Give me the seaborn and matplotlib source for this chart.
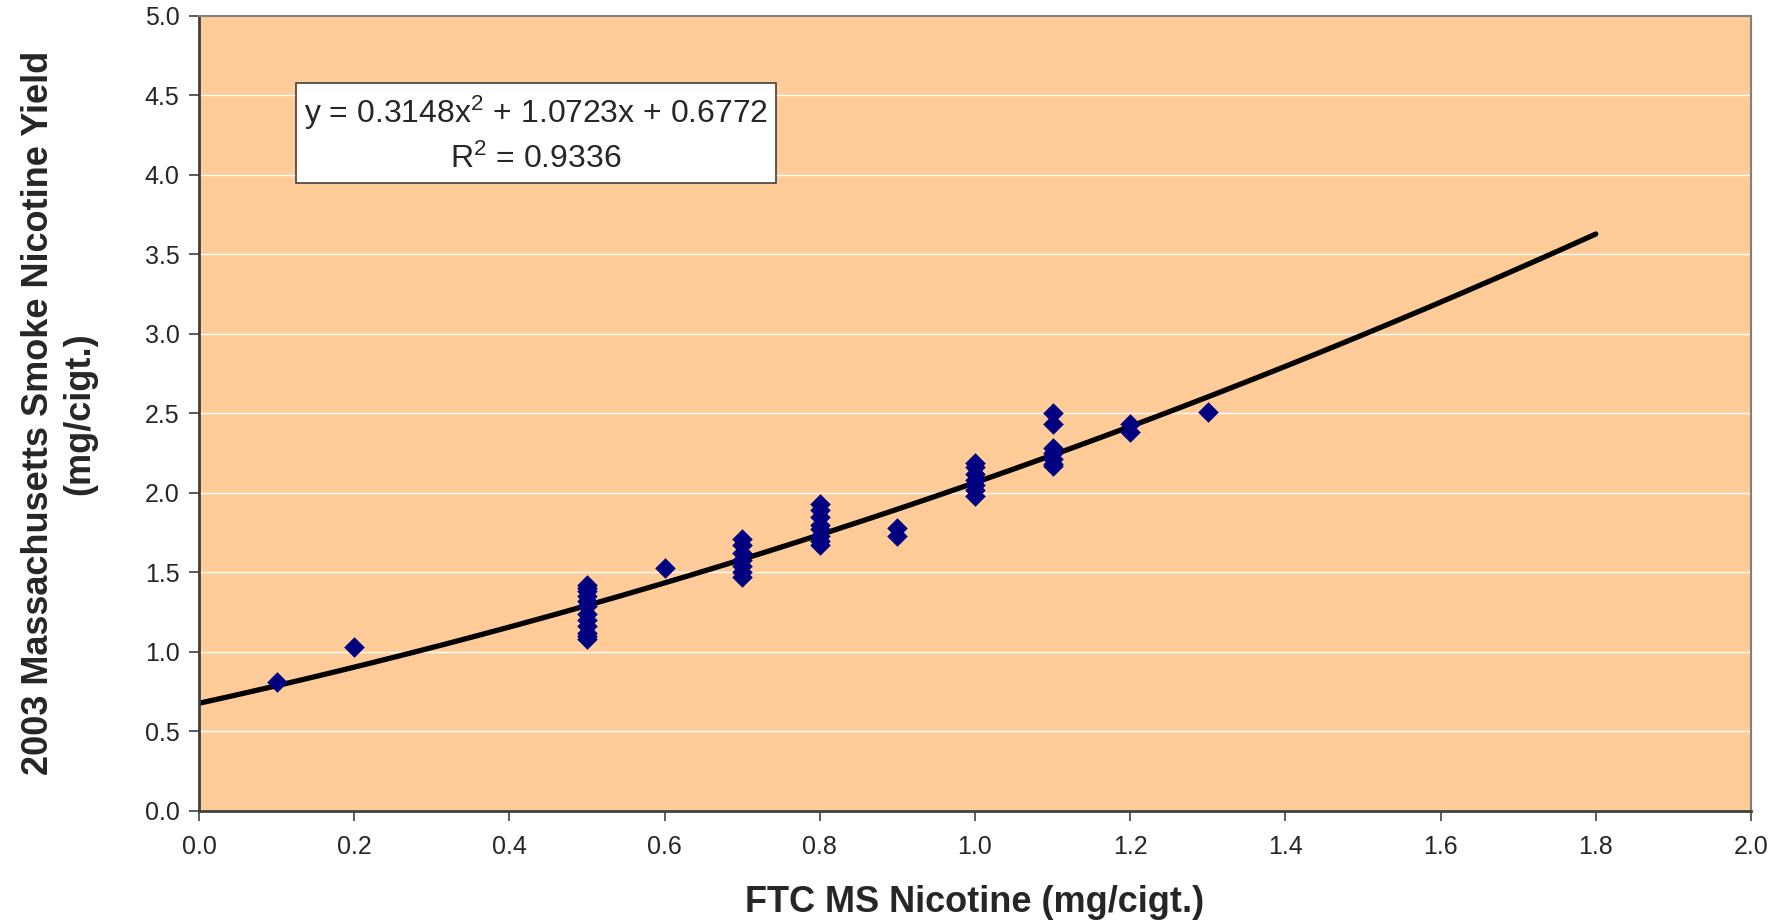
import numpy as np
import pandas as pd
import seaborn as sns
import matplotlib.pyplot as plt

# FTC machine-smoked nicotine vs 2003 Massachusetts yield (mg/cigt.)
ftc_nicotine = [0.1, 0.2,
                0.5, 0.5, 0.5, 0.5, 0.5, 0.5, 0.5, 0.5, 0.5, 0.5, 0.5, 0.5,
                0.6,
                0.7, 0.7, 0.7, 0.7, 0.7, 0.7, 0.7,
                0.8, 0.8, 0.8, 0.8, 0.8, 0.8, 0.8, 0.8,
                0.9, 0.9,
                1.0, 1.0, 1.0, 1.0, 1.0, 1.0, 1.0,
                1.1, 1.1, 1.1, 1.1, 1.1, 1.1, 1.1,
                1.2, 1.2,
                1.3]
mass_nicotine = [0.81, 1.03,
                 1.42, 1.40, 1.38, 1.35, 1.32, 1.29, 1.24, 1.20, 1.16, 1.12, 1.10, 1.08,
                 1.53,
                 1.71, 1.67, 1.62, 1.58, 1.54, 1.50, 1.47,
                 1.93, 1.89, 1.85, 1.80, 1.77, 1.73, 1.70, 1.67,
                 1.78, 1.73,
                 2.19, 2.16, 2.12, 2.08, 2.05, 2.02, 1.98,
                 2.50, 2.43, 2.28, 2.25, 2.21, 2.18, 2.17,
                 2.43, 2.38,
                 2.51]

# polynomial trendline as printed on the chart
trend_coef = [0.3148, 1.0723, 0.6772]
trend_r2 = 0.9336
trend_range = [0.0, 1.8]

x_ticks = [0.0, 0.2, 0.4, 0.6, 0.8, 1.0, 1.2, 1.4, 1.6, 1.8, 2.0]
y_ticks = [0.0, 0.5, 1.0, 1.5, 2.0, 2.5, 3.0, 3.5, 4.0, 4.5, 5.0]

df = pd.DataFrame({"ftc": ftc_nicotine, "mass": mass_nicotine})
trend_x = np.linspace(trend_range[0], trend_range[1], 200)
trend = pd.DataFrame({"x": trend_x, "y": np.polyval(trend_coef, trend_x)})

sns.set_style("white")
plt.rcParams['font.family'] = ['Liberation Sans', 'DejaVu Sans']

fig = plt.figure(figsize=(17.69, 9.22), dpi=100)
ax = fig.add_axes([0.1125, 0.1204, 0.8773, 0.8626])
ax.set_facecolor('#FFCC99')

for y in y_ticks[1:-1]:
    ax.axhline(y, color='white', linewidth=1, zorder=0)

sns.lineplot(data=trend, x="x", y="y", color='black', linewidth=3.8,
             ax=ax, zorder=2)
sns.scatterplot(data=df, x="ftc", y="mass", marker='D', s=110,
                color='#000080', edgecolor='#000080', linewidth=0,
                ax=ax, zorder=3)

ax.set_xlim(0, 2.0)
ax.set_ylim(0, 5.0)
ax.set_xticks(x_ticks)
ax.set_yticks(y_ticks)
ax.set_xticklabels([f"{t:.1f}" for t in x_ticks])
ax.set_yticklabels([f"{t:.1f}" for t in y_ticks])
ax.tick_params(axis='both', direction='out', length=7, width=1.2,
               color='#404040', labelsize=18, bottom=True, left=True)
ax.tick_params(axis='x', pad=10)
ax.tick_params(axis='y', pad=7)

for side in ['left', 'bottom']:
    ax.spines[side].set_color('#404040')
    ax.spines[side].set_linewidth(2)
for side in ['top', 'right']:
    ax.spines[side].set_color('#808080')
    ax.spines[side].set_linewidth(1.5)

ax.set_xlabel('FTC MS Nicotine (mg/cigt.)', fontsize=26,
              fontweight='bold', labelpad=19)
ax.set_ylabel('2003 Massachusetts Smoke Nicotine Yield\n(mg/cigt.)',
              fontsize=26, fontweight='bold', labelpad=34, linespacing=1.25)

eq = (f"y = {trend_coef[0]:.4f}x$\\mathregular{{^2}}$ + {trend_coef[1]:.4f}x"
      f" + {trend_coef[2]:.4f}\nR$\\mathregular{{^2}}$ = {trend_r2:.4f}")
ax.text(0.434, 4.255, eq, fontsize=23, ha='center', va='center',
        linespacing=1.5, zorder=4,
        bbox=dict(boxstyle='square,pad=0.25', facecolor='white',
                  edgecolor='#404040', linewidth=1.2))

fig.savefig('out.png', dpi=100)
